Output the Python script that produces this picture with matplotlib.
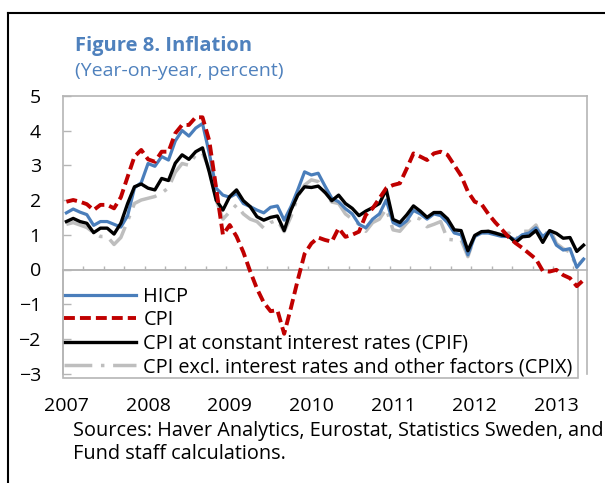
import numpy as np
import matplotlib
matplotlib.use("Agg")
import matplotlib.pyplot as plt
import matplotlib.transforms as mtransforms
from matplotlib.lines import Line2D
from matplotlib.patches import Rectangle

plt.rcParams['font.family'] = ['Open Sans', 'DejaVu Sans']

# Monthly data, Jan 2007 - May 2013 (year-on-year, percent)
years = ['2007', '2008', '2009', '2010', '2011', '2012', '2013']

hicp = [1.63, 1.74, 1.65, 1.58, 1.27, 1.38, 1.38, 1.30, 1.22, 1.55, 2.35, 2.50,
        3.05, 2.97, 3.25, 3.15, 3.70, 4.00, 3.84, 4.07, 4.20, 3.34, 2.34, 2.14,
        2.08, 2.19, 1.90, 1.81, 1.71, 1.63, 1.79, 1.83, 1.42, 1.81, 2.29, 2.81,
        2.72, 2.77, 2.40, 2.05, 1.95, 1.75, 1.60, 1.30, 1.20, 1.45, 1.60, 2.00,
        1.35, 1.25, 1.40, 1.70, 1.60, 1.45, 1.60, 1.55, 1.35, 1.05, 1.00, 0.42,
        0.95, 1.05, 1.05, 1.00, 0.95, 0.95, 0.85, 1.00, 1.05, 1.20, 0.95, 1.10,
        0.70, 0.56, 0.60, 0.06, 0.30]

cpi = [1.95, 2.00, 1.95, 1.88, 1.71, 1.86, 1.86, 1.76, 2.08, 2.67, 3.25, 3.44,
       3.17, 3.10, 3.39, 3.39, 3.92, 4.16, 4.16, 4.38, 4.38, 3.70, 2.35, 1.00,
       1.28, 0.95, 0.50, -0.05, -0.55, -0.95, -1.20, -1.17, -1.85, -1.10, -0.30, 0.45,
       0.75, 0.92, 0.85, 0.80, 1.19, 0.94, 1.00, 1.09, 1.57, 1.76, 2.05, 2.34,
       2.43, 2.48, 2.90, 3.34, 3.25, 3.15, 3.34, 3.39, 3.30, 3.00, 2.70, 2.24,
       1.95, 1.88, 1.60, 1.36, 1.15, 0.93, 0.76, 0.62, 0.46, 0.30, -0.04, -0.06,
       -0.01, -0.16, -0.25, -0.48, -0.30]

cpif = [1.38, 1.47, 1.38, 1.33, 1.06, 1.19, 1.19, 1.02, 1.33, 1.90, 2.38, 2.46,
        2.34, 2.29, 2.62, 2.56, 3.06, 3.30, 3.17, 3.39, 3.50, 2.80, 2.00, 1.71,
        2.10, 2.29, 1.98, 1.81, 1.52, 1.42, 1.50, 1.54, 1.12, 1.71, 2.14, 2.38,
        2.36, 2.40, 2.22, 1.98, 2.14, 1.90, 1.76, 1.55, 1.68, 1.78, 1.90, 2.30,
        1.44, 1.35, 1.57, 1.83, 1.68, 1.50, 1.64, 1.64, 1.46, 1.14, 1.12, 0.54,
        0.98, 1.09, 1.10, 1.05, 0.99, 0.96, 0.78, 0.94, 0.96, 1.12, 0.78, 1.12,
        1.04, 0.90, 0.92, 0.52, 0.70]

cpix = [1.30, 1.35, 1.28, 1.21, 1.06, 0.95, 0.95, 0.72, 0.92, 1.40, 1.90, 2.00,
        2.05, 2.10, 2.20, 2.35, 2.80, 3.05, 3.00, 3.30, 3.35, 2.90, 2.00, 1.45,
        1.66, 1.86, 1.60, 1.45, 1.38, 1.19, 1.35, 1.42, 1.09, 1.52, 2.10, 2.43,
        2.58, 2.53, 2.20, 1.94, 1.90, 1.60, 1.45, 1.30, 1.10, 1.35, 1.45, 1.75,
        1.14, 1.10, 1.33, 1.52, 1.45, 1.23, 1.30, 1.38, 0.87, 0.85, 0.85, 0.37,
        0.95, 1.05, 1.10, 1.05, 1.00, 1.05, 0.85, 1.10, 1.10, 1.28, 0.85, 1.20,
        0.75, 0.60, 0.50, 0.08, 0.30]

labels = ['HICP', 'CPI', 'CPI at constant interest rates (CPIF)',
          'CPI excl. interest rates and other factors (CPIX)']

W, H = 605, 483
GRAY = '#B5B5B5'
BLUE = '#4A7EBB'
TITLE_BLUE = '#4F81BD'
FS = 14


def fx(px):
    return px / W


def fy(py):
    return 1 - py / H


fig = plt.figure(figsize=(W / 100, H / 100), dpi=100)
ax = fig.add_axes([fx(63), fy(373.75), fx(587) - fx(63), fy(95.75) - fy(373.75)])

months = np.arange(len(hicp))
l_cpix, = ax.plot(months, cpix, color='#BEBEBE', lw=2.5, dashes=(8, 2.5, 1, 2.5), zorder=3)
l_hicp, = ax.plot(months, hicp, color=BLUE, lw=2.3, zorder=3.1)
l_cpif, = ax.plot(months, cpif, color='black', lw=2.4, zorder=3.2)
l_cpi, = ax.plot(months, cpi, color='#C00000', lw=2.8, dashes=(2.8, 1.3), zorder=3.3)

ax.set_xlim(-0.5, len(hicp) - 0.5)
ax.set_ylim(-3, 5)
ax.set_yticks(range(-3, 6))
ax.set_xticks(np.arange(2.5, len(hicp) - 1, 3))

for side in ['left', 'top', 'right']:
    ax.spines[side].set_color(GRAY)
    ax.spines[side].set_linewidth(1.2)
ax.spines['bottom'].set_position(('data', 0))
ax.spines['bottom'].set_color(GRAY)
ax.spines['bottom'].set_linewidth(1.2)

ax.tick_params(axis='y', direction='in', length=5.5, width=1, color=GRAY,
               pad=16, labelsize=FS)
ax.tick_params(axis='x', direction='in', length=3, width=1, color=GRAY,
               labelbottom=False)

# year labels under the plot
trans = mtransforms.blended_transform_factory(ax.transData, fig.transFigure)
for j, yr in enumerate(years):
    ax.text(12 * j, fy(411), yr, transform=trans, ha='center', va='baseline',
            fontsize=FS, clip_on=False)

# legend box (drawn below the lines)
box = Rectangle((fx(63), fy(378)), fx(578) - fx(63), fy(270) - fy(378),
                transform=fig.transFigure, facecolor='white', edgecolor=GRAY,
                lw=1.2, zorder=1.5, clip_on=False)
ax.add_patch(box)
leg = ax.legend([l_hicp, l_cpi, l_cpif, l_cpix], labels, loc='upper left',
                bbox_to_anchor=(fx(64), fy(286.5)), bbox_transform=fig.transFigure,
                frameon=False, borderaxespad=0, borderpad=0, handlelength=3.6,
                handletextpad=0.4, labelspacing=0.18, fontsize=14.3)
leg.set_zorder(1.6)

# titles and source note
fig.text(fx(75), fy(51), 'Figure 8. Inflation', color=TITLE_BLUE,
         fontsize=14.5, fontweight='bold', va='baseline')
fig.text(fx(75), fy(76), '(Year-on-year, percent)', color=TITLE_BLUE,
         fontsize=FS, va='baseline')
fig.text(fx(73), fy(436), 'Sources: Haver Analytics, Eurostat, Statistics Sweden, and',
         fontsize=14.3, va='baseline')
fig.text(fx(73), fy(459), 'Fund staff calculations.', fontsize=14.3, va='baseline')

# outer frame (left and top edges)
fig.add_artist(Line2D([fx(8), fx(8)], [fy(13), 0], color='black', lw=1.5,
                      transform=fig.transFigure))
fig.add_artist(Line2D([fx(8), 1], [fy(13), fy(13)], color='black', lw=1.5,
                      transform=fig.transFigure))

fig.savefig('out.png', dpi=100)
